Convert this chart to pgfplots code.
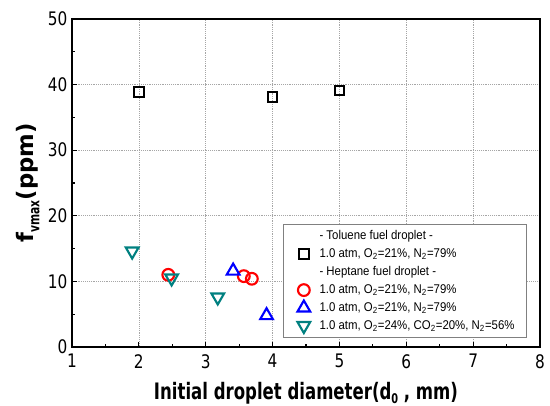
\documentclass[border=0pt]{standalone}
\usepackage{pgfplots}
\pgfplotsset{compat=1.18}
\usepackage{fontspec}
\setmainfont{DejaVu Sans}
\newfontfamily\ticfont[FakeStretch=0.82]{DejaVu Sans}
\newfontfamily\labfont[FakeStretch=0.73]{DejaVu Sans}
\newfontfamily\legfont[FakeStretch=0.9]{Liberation Sans}
\definecolor{tealmk}{RGB}{0,128,128}
\begin{document}
\begin{tikzpicture}
\begin{axis}[
  scale only axis, width=351pt, height=246pt,
  xmin=1, xmax=8, ymin=0, ymax=50,
  xtick={1,2,3,4,5,6,7,8}, ytick={0,10,20,30,40,50},
  minor x tick num=1, minor y tick num=1,
  tick align=inside, xtick pos=bottom, ytick pos=left,
  major tick length=4pt, minor tick length=2.5pt,
  grid=major, major grid style={gray!70, densely dotted, line width=0.5pt},
  axis line style={line width=1pt},
  every tick/.style={black, line width=0.8pt},
  /pgf/number format/assume math mode=true,
  tick label style={font=\ticfont\fontsize{14}{16}\selectfont},
  xticklabel style={yshift=-2pt},
  xlabel={Initial droplet diameter(d\raisebox{-0.35ex}{\fontsize{10}{10}\selectfont 0} , mm)},
  ylabel={f\raisebox{-0.45ex}{\labfont\fontsize{11}{11}\selectfont vmax}(ppm)},
  every axis x label/.style={at={(axis description cs:0.5,-0.14)}, anchor=center, font=\labfont\bfseries\fontsize{17}{19}\selectfont},
  every axis y label/.style={at={(axis description cs:-0.094,0.5)}, rotate=90, anchor=center, font=\bfseries\fontsize{17}{19}\selectfont},
  legend style={at={(0.972,0.027)}, anchor=south east, draw=gray, line width=0.6pt,
    font=\legfont\fontsize{9.5}{11}\selectfont, row sep=1.2pt, column sep=5pt,
    inner xsep=7pt, inner ysep=3pt},
  legend cell align=left,
]
\addlegendimage{empty legend}
\addlegendentry{- Toluene fuel droplet -}
\addplot[only marks, mark=square, mark size=3.6pt, line width=1.6pt, black]
  coordinates {(2,38.9) (4,38.1) (5,39.1)};
\addlegendentry{1.0 atm, O\textsubscript{2}=21\%, N\textsubscript{2}=79\%}
\addlegendimage{empty legend}
\addlegendentry{- Heptane fuel droplet -}
\addplot[only marks, mark=o, mark size=4.4pt, line width=1.6pt, red]
  coordinates {(2.44,11.0) (3.57,10.8) (3.69,10.4)};
\addlegendentry{1.0 atm, O\textsubscript{2}=21\%, N\textsubscript{2}=79\%}
\addplot[only marks, mark=triangle, mark size=5.5pt, line width=1.6pt, blue]
  coordinates {(3.41,11.6) (3.91,4.8)};
\addlegendentry{1.0 atm, O\textsubscript{2}=21\%, N\textsubscript{2}=79\%}
\addplot[only marks, mark=triangle, mark size=5.5pt, line width=1.6pt, tealmk, mark options={rotate=180}]
  coordinates {(1.90,14.6) (2.49,10.5) (3.18,7.6)};
\addlegendentry{1.0 atm, O\textsubscript{2}=24\%, CO\textsubscript{2}=20\%, N\textsubscript{2}=56\%}
\coordinate (ll) at (rel axis cs:0,0);
\coordinate (ur) at (rel axis cs:1,1);
\end{axis}
\pgfresetboundingbox
\path ([shift={(-54pt,-43.5pt)}]ll) rectangle ([shift={(7.5pt,14.25pt)}]ur);
\end{tikzpicture}
\end{document}
